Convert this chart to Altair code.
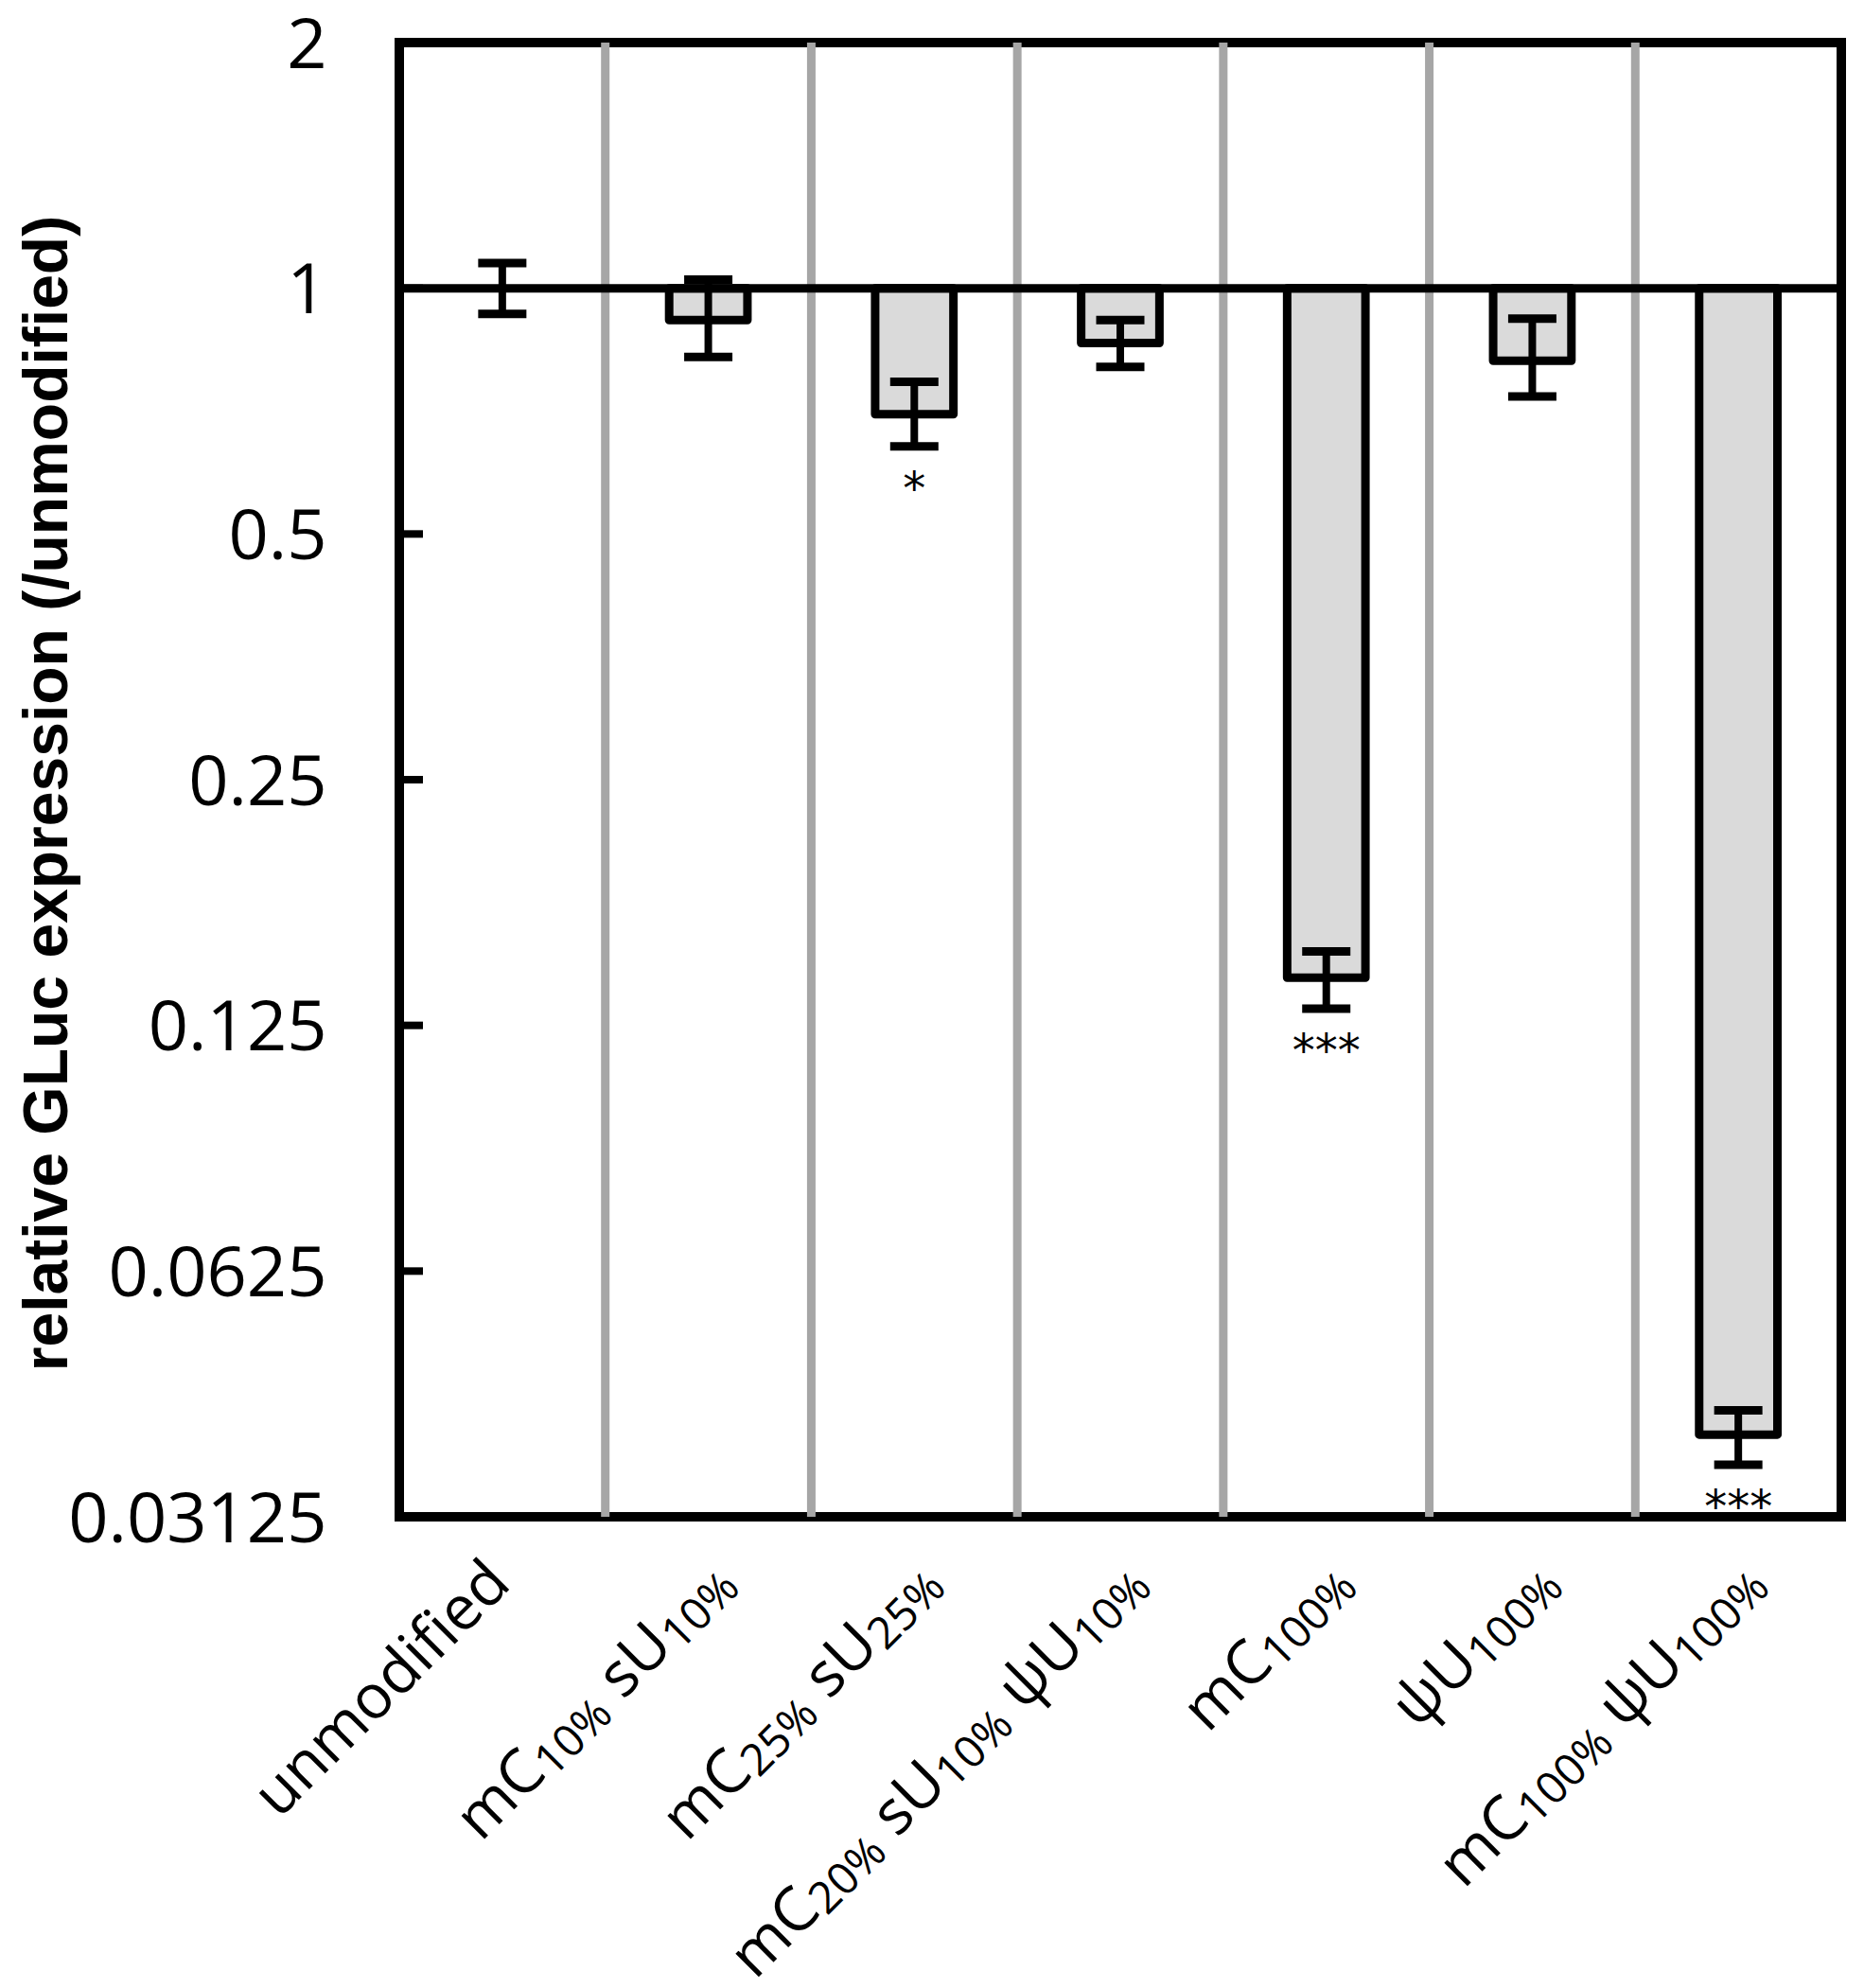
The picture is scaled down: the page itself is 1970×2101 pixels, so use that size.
import altair as alt
import pandas as pd

# ---------------- data ----------------
categories = ["unmodified", "mC10% sU10%", "mC25% sU25%", "mC20% sU10% ψU10%",
              "mC100%", "ψU100%", "mC100% ψU100%"]
values = [1.0, 0.914, 0.701, 0.857, 0.143, 0.815, 0.0394]
err_hi = [1.074, 1.025, 0.768, 0.914, 0.154, 0.918, 0.0422]
err_lo = [0.930, 0.824, 0.640, 0.801, 0.131, 0.737, 0.0362]
stars = ["", "", "*", "", "***", "", "***"]
y_ticks = [0.03125, 0.0625, 0.125, 0.25, 0.5, 1, 2]

# label pieces: (text, is_subscript)
label_parts = [
    [("unmodified", False)],
    [("mC", False), ("10%", True), (" sU", False), ("10%", True)],
    [("mC", False), ("25%", True), (" sU", False), ("25%", True)],
    [("mC", False), ("20%", True), (" sU", False), ("10%", True), (" ψU", False), ("10%", True)],
    [("mC", False), ("100%", True)],
    [("ψU", False), ("100%", True)],
    [("mC", False), ("100%", True), (" ψU", False), ("100%", True)],
]
label_shift = [-14, 0, 0, 0, 0, 0, 0]   # small per-label nudge along the rotated frame

# ---------------- layout ----------------
W, H = 1524, 1558
MAIN_FS, SUB_FS = 65, 47
SUB_DY = 6
G = 22           # shift of label ends in the rotated frame
LABEL_Y = 1631   # baseline end of the labels, from plot top

OS_W = {' ': 0.260, '%': 0.838, '0': 0.572, '1': 0.572, '2': 0.572, '5': 0.572,
        'C': 0.631, 'U': 0.738, 'm': 0.930, 's': 0.486, 'ψ': 0.74}


def tw(s, size):
    return sum(OS_W.get(c, 0.6) for c in s) * size


df = pd.DataFrame({"cat": categories, "value": values, "hi": err_hi,
                   "lo": err_lo, "stars": stars})

x_scale = alt.Scale(domain=categories, paddingInner=0, paddingOuter=0)
y_scale = alt.Scale(type="log", base=2, domain=[0.03125, 2])
X = alt.X("cat:N", scale=x_scale, axis=None, sort=categories)

dividers = alt.Chart(pd.DataFrame({"cat": categories[1:]})).mark_rule(
    color="#a6a6a6", strokeWidth=9
).encode(x=alt.X("cat:N", scale=x_scale, axis=None, bandPosition=0),
         y=alt.value(0), y2=alt.value(H))

bars = alt.Chart(df).transform_filter("datum.value < 1").mark_bar(
    width=alt.RelativeBandSize(0.38), fill="#dadada", stroke="black",
    strokeWidth=9, strokeJoin="round"
).encode(
    x=X,
    y=alt.Y("value:Q", scale=y_scale,
            axis=alt.Axis(values=y_ticks, format="~g", labelFont="Open Sans",
                          labelFontSize=74, labelColor="black", labelPadding=77,
                          labelLimit=500, labelOffset=4, tickSize=0, domain=False,
                          grid=False,
                          title="relative GLuc expression (/unmodified)",
                          titleFont="Liberation Sans", titleFontWeight="bold",
                          titleFontSize=66, titleColor="black", titleAngle=270,
                          titleX=-372, titleY=793, titleAlign="center",
                          titleBaseline="middle")),
    y2=alt.datum(1),
)

hline = alt.Chart(pd.DataFrame({"v": [1]})).mark_rule(
    color="black", strokeWidth=9
).encode(y=alt.Y("v:Q", scale=y_scale), x=alt.value(0), x2=alt.value(W))

stems = alt.Chart(df).mark_rule(color="black", strokeWidth=8, opacity=1).encode(
    x=X, y=alt.Y("lo:Q", scale=y_scale), y2="hi:Q")

caps = alt.Chart(df).transform_fold(["lo", "hi"], as_=["k", "e"]).mark_tick(
    color="black", orient="horizontal", size=51, thickness=9, opacity=1
).encode(x=X, y=alt.Y("e:Q", scale=y_scale))

yticks = alt.Chart(pd.DataFrame({"t": y_ticks})).mark_rule(
    color="black", strokeWidth=8
).encode(y=alt.Y("t:Q", scale=y_scale), x=alt.value(0), x2=alt.value(25))

star_txt = alt.Chart(df).transform_filter("datum.stars != ''").mark_text(
    font="DejaVu Sans", fontSize=48, color="black", baseline="alphabetic", dy=61
).encode(x=X, y=alt.Y("lo:Q", scale=y_scale), text="stars:N")

layers = [dividers, bars, hline, stems, caps, yticks, star_txt]

for cat, parts, sh in zip(categories, label_parts, label_shift):
    widths = [tw(t, SUB_FS if sub else MAIN_FS) for t, sub in parts]
    for j, (t, sub) in enumerate(parts):
        after = sum(widths[j + 1:])
        layers.append(
            alt.Chart(pd.DataFrame({"cat": [cat], "txt": [t]})).mark_text(
                font="Open Sans", fontSize=SUB_FS if sub else MAIN_FS, color="black",
                angle=315, align="right", baseline="alphabetic",
                dx=G + sh - after, dy=G + sh + (SUB_DY if sub else 0)
            ).encode(x=X, y=alt.value(LABEL_Y), text="txt:N")
        )

chart = alt.layer(*layers).properties(
    width=W, height=H,
    padding={"left": 414, "top": 37, "right": 16, "bottom": 490},
    autosize=alt.AutoSizeParams(type="none"),
    background="white",
).configure_view(stroke="black", strokeWidth=10)

chart.save("out.html", embed_options={"renderer": "svg", "actions": False})
